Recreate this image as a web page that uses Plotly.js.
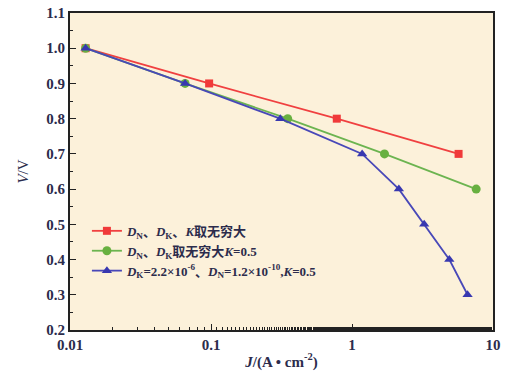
<!DOCTYPE html>
<html><head><meta charset="utf-8">
<script src="https://cdn.plot.ly/plotly-3.0.1.min.js"></script>
<style>html,body{margin:0;padding:0;background:#fff;}#chart{width:512px;height:382px;}</style>
</head><body><div id="chart"></div>
<script>
// Data
const redJ = [0.0129, 0.097, 0.78, 5.7];
const redV = [1.0, 0.9, 0.8, 0.7];
const greenJ = [0.0129, 0.0655, 0.35, 1.7, 7.6];
const greenV = [1.0, 0.9, 0.8, 0.7, 0.6];
const blueJ = [0.0129, 0.0655, 0.31, 1.18, 2.15, 3.25, 4.9, 6.6];
const blueV = [1.0, 0.9, 0.8, 0.7, 0.6, 0.5, 0.4, 0.3];
const names = [
  "<i>D</i><sub>N</sub>、<i>D</i><sub>K</sub>、<i>K</i>取无穷大",
  "<i>D</i><sub>N</sub>、<i>D</i><sub>K</sub>取无穷大<i>K</i>=0.5",
  "<i>D</i><sub>K</sub>=2.2×10<sup>-6</sup>、<i>D</i><sub>N</sub>=1.2×10<sup>-10</sup>,<i>K</i>=0.5"
];
const xTickVals = [0.01, 0.1, 1, 10];
const xTickText = ["0.01", "0.1", "1", "10"];

const FONT = "Liberation Serif, 'Noto Sans CJK SC', serif";
const traces = [
  {x: redJ, y: redV, name: names[0], mode: "lines+markers",
   line: {color: "#f04040", width: 1.8}, marker: {symbol: "square", size: 8, color: "#f03a3a"}},
  {x: greenJ, y: greenV, name: names[1], mode: "lines+markers",
   line: {color: "#6cb450", width: 1.8}, marker: {symbol: "circle", size: 9, color: "#68b040"}},
  {x: blueJ, y: blueV, name: names[2], mode: "lines+markers",
   line: {color: "#4848b8", width: 1.8}, marker: {symbol: "triangle-up", size: 9, color: "#3838b0"}}
];
const layout = {
  width: 512, height: 382,
  margin: {l: 70, r: 19, t: 13, b: 52},
  paper_bgcolor: "#ffffff",
  plot_bgcolor: "#fcf1da",
  font: {family: FONT, color: "#2c2c4c", size: 14},
  showlegend: true,
  legend: {x: 0.04, y: 0.36, xanchor: "left", yanchor: "top", bgcolor: "rgba(0,0,0,0)",
    font: {family: FONT, size: 13, color: "#2c2c4c", weight: "bold"}, tracegroupgap: 0},
  xaxis: {type: "log", range: [-2, 1], tickvals: xTickVals, ticktext: xTickText,
    ticks: "inside", ticklen: 6, tickcolor: "#222", showgrid: false, zeroline: false,
    showline: true, linecolor: "#222", linewidth: 2, mirror: true,
    minor: {ticks: "inside", ticklen: 3, tickcolor: "#222", showgrid: false},
    tickfont: {family: FONT, size: 15, weight: "bold", color: "#2c2c4c"},
    title: {text: "<i>J</i>/(A • cm<sup>-2</sup>)", standoff: 4,
      font: {family: FONT, size: 15, weight: "bold", color: "#2c2c4c"}}},
  yaxis: {range: [0.2, 1.1], dtick: 0.1, tickformat: ".1f",
    ticks: "inside", ticklen: 6, tickcolor: "#222", showgrid: false, zeroline: false,
    showline: true, linecolor: "#222", linewidth: 2, mirror: true,
    minor: {dtick: 0.05, ticks: "inside", ticklen: 3, tickcolor: "#222", showgrid: false},
    tickfont: {family: FONT, size: 15, weight: "bold", color: "#2c2c4c"},
    title: {text: "<i>V</i>/V", standoff: 14,
      font: {family: FONT, size: 15, color: "#2c2c4c"}}}
};
Plotly.newPlot("chart", traces, layout, {displayModeBar: false, staticPlot: true});
</script></body></html>
